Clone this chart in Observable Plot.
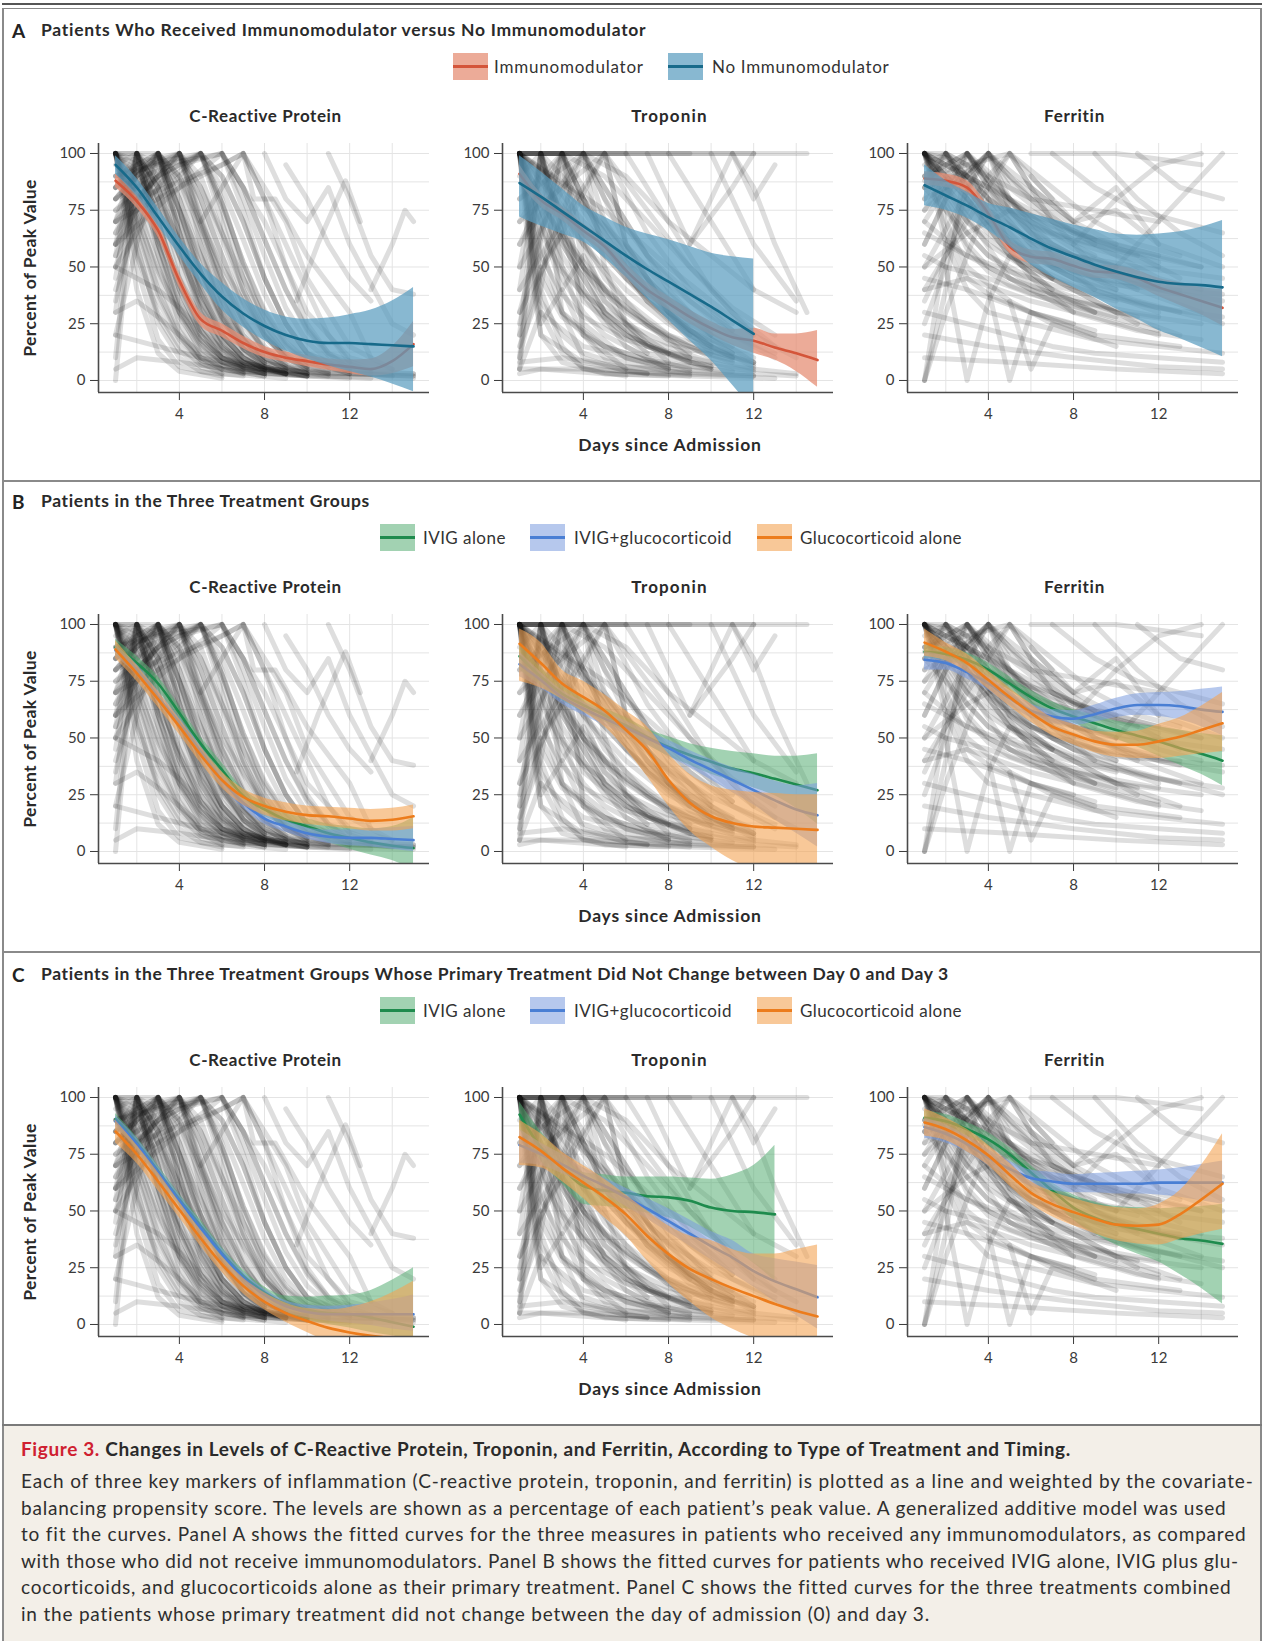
<!DOCTYPE html>
<html><head><meta charset="utf-8">
<script src="https://cdn.jsdelivr.net/npm/d3@7"></script>
<script src="https://cdn.jsdelivr.net/npm/@observablehq/plot@0.6"></script>
<style>
html,body{margin:0;padding:0;background:#fff;}
#root{position:relative;width:1264px;height:1641px;overflow:hidden;font-family:Lato,"Noto Sans",sans-serif;color:#222;}
#root svg{position:absolute;}
</style></head><body><div id="root"></div>
<script>
// ---------------- DATA ----------------
const panelTitles = ["C-Reactive Protein", "Troponin", "Ferritin"];
const sectionLetters = ["A", "B", "C"];
const sectionTitles = [
  "Patients Who Received Immunomodulator versus No Immunomodulator",
  "Patients in the Three Treatment Groups",
  "Patients in the Three Treatment Groups Whose Primary Treatment Did Not Change between Day 0 and Day 3"
];
const legendA = ["Immunomodulator", "No Immunomodulator"];
const legendBC = ["IVIG alone", "IVIG+glucocorticoid", "Glucocorticoid alone"];
const xTicks = [4, 8, 12];
const yTicks = [0, 25, 50, 75, 100];
const gridDays = [2, 4, 6, 8, 10, 12, 14];
const gridVals = [0, 12.5, 25, 37.5, 50, 62.5, 75, 87.5, 100];
const xLabel = "Days since Admission";
const yLabel = "Percent of Peak Value";

// fitted curves: [fit, lower, upper] for day 1, 2, 3, ...
const A_crp_imm = [[88,85,91],[79,76,82],[66,63,69],[44,41,47],[27,24,30],[22,19,25],[16.5,14,19.5],[12.5,10,15],[10,8,12.5],[8.5,6,11],[7,4.5,9.5],[6,3,9],[5,2,9.5],[8.5,3,15],[16,6,26]];
const A_crp_non = [[95,91,99],[85,81,89],[72,68,76],[59,55,63],[47,42.5,51.5],[37,31,43],[29.5,23.5,36],[24,17.5,31],[20,13,28],[17.5,9.5,27],[16.5,6.5,27.5],[16.5,4,29],[16,1.5,31],[15.5,-1.5,35],[15,-5,41]];
const A_trp_imm = [[91,87,95],[79.5,76.5,82.5],[73.5,70.5,76.5],[66,63,69],[59,56,62],[48.5,45.5,51.5],[40,37,43],[34,31,37],[28,25,31],[23,20,26],[19,15.5,22.5],[17.5,12,23],[14.5,9,20.5],[12,4,20.5],[9,-3,22]];
const A_trp_non = [[87,72,99],[81,68,92],[74.5,64.5,84.5],[68,61,77],[61.5,54,72],[55,45.5,67.5],[49,36,64.5],[43.5,26.5,62],[38,17.5,59],[32.5,8.8,56],[26.5,-2,54.5],[20.5,-13,53.5]];
const A_fer_imm = [[89,86,92],[88,85,91],[85,82,88],[73.5,70.5,76.5],[59,56,62],[54.5,51.5,57.5],[53.5,50.5,56.5],[50.5,47.5,53.5],[48,45,51],[47.5,44.5,50.5],[45,41.5,48.5],[41,37,45],[38,33,43],[35,29,41],[32,24,40]];
const A_fer_non = [[86,77,95],[81.5,75,88],[77,71.5,83],[72,66,78],[67.5,59,76],[62.5,51,73.5],[58,45.5,71],[54.5,41,68.5],[51,36.5,66.5],[48,31.5,64.5],[45.5,27,64],[43.5,22,64.5],[42.5,18.5,65.5],[42,14.5,67.5],[41,10.5,70.5]];

const B_crp_ivig = [[90,86.5,93.5],[83,80,86],[74,71,77],[61,58,64],[47.5,44.5,50.5],[36,33,39],[24.5,21.5,27.5],[18.5,15.5,21.5],[14,11,17],[11,7.5,14.5],[8,4,12],[6,1,11],[4,-1.5,10],[2.5,-4,11],[1.5,-8,15]];
const B_crp_both = [[88.5,86,91],[80,77.5,82.5],[68,65.5,70.5],[56.5,54,59],[44,41.5,46.5],[31.5,29,34],[21.5,19,24],[14.5,12,17],[11,8.5,13.5],[8,5.5,10.5],[6.5,3.5,9.5],[6,2.5,9.5],[6,2,10],[5.5,1,10.5],[5,0,11]];
const B_crp_gluc = [[89,85,93],[78.5,75,82],[67,63.5,70.5],[55,51.5,58.5],[42.5,39,46],[31.5,28,35],[24,20.5,27.5],[20,16,23.5],[17.5,13.5,21.5],[16,12,20],[15.5,11,19.5],[14.5,10,19],[13.5,9,18.5],[14,9,19],[15.5,10,20.5]];
const B_trp_ivig = [[86,80,92],[77,73,81],[69.5,66.5,73],[64.5,61.5,67.5],[60,57,63],[55.5,52.5,59],[50.5,47,54],[46,42,50.5],[42.5,38,47.5],[39.5,34,45.5],[36.5,31,44],[34.5,28,43],[32,24.5,42],[29.5,19,42],[27,12,43]];
const B_trp_both = [[82.5,77,88],[75.5,72,79],[68,65,71],[63,60,66],[58.5,55.5,61.5],[54.5,51.5,57.5],[50,47,53],[45.5,42,49],[40.5,37,44.5],[36,31.5,40.5],[31.5,26,37],[27,20.5,34],[22.5,14,31],[18.5,8,29],[16,2,30]];
const B_trp_gluc = [[91.5,75,98],[83,72,92],[74,67,80],[68,61.5,75],[62,55,69],[53.5,45,62],[44.5,33,55],[31.5,20,43],[21.5,9,34],[15.5,2,29],[12.5,-4,27],[11,-8,26],[10.5,-11,25.5],[10,-13,25],[9.5,-15,25]];
const B_fer_ivig = [[88,85,91],[87,84,90],[84.5,81.5,87.5],[80,77,83],[74,71,77],[68,65,71],[63,60,66],[59.5,56.5,62.5],[56.5,53,60],[53.5,49.5,57.5],[51,46,56],[48.5,42,55],[45.5,38,53.5],[43,34,52],[40,29,51]];
const B_fer_both = [[84.5,80,88],[83,80,86],[79,76,82],[74,71,77],[67.5,64.5,70.5],[62,59,65],[59.5,56.5,62.5],[58.5,55.5,62],[60.5,57,64.5],[63,59,67.5],[64.5,60,69.5],[64.5,59.5,70],[64,58,70.5],[62.5,55,71.5],[61.5,51,72.5]];
const B_fer_gluc = [[92,86,98],[88,84,92],[83,79,87],[75.5,71.5,79.5],[68,64,72],[61,57,65],[55,51,59],[51.5,47,56],[48.5,43.5,53],[47,41.5,52.5],[47,41,53],[48.5,41,56],[50.5,42,59],[53.5,43,64],[56.5,44,70]];

const C_crp_ivig = [[90.5,88,93],[80,77.5,82.5],[67.5,65,70],[55,52.5,57.5],[43.5,41,46],[31.5,29,34],[21.5,19,24],[14,11.5,16.5],[9,5.5,12.5],[6.5,2,12],[5,0,12.5],[4.5,-1.5,13],[3,-3.5,15],[1,-5,19.5],[-1,-7,25]];
const C_crp_both = [[89.5,87,92],[79.5,77,82],[67,64.5,69.5],[54.5,52,57],[42.5,40,45],[31,28.5,33.5],[20.5,18,23],[13,10.5,15.5],[8,5.5,10.5],[5.5,3,8.5],[4.5,1.5,8],[4.5,0.5,8.5],[4.5,-0.5,9.5],[4.5,-2,11],[4.5,-3,13]];
const C_crp_gluc = [[85,80,90],[75,71,79],[63,59,67],[50.5,47,54],[38,34.5,41.5],[26.5,23,30],[17,13.5,20.5],[10,6.5,14],[5,1,9.5],[1.5,-3.5,7],[-1.5,-8,6.5],[-3.5,-13,7.5],[-5,-18,10],[-6,-23,14],[-6.5,-28,19]];
const C_trp_ivig = [[92.5,86,98],[78,72,85],[69,62,75],[61,53,67],[59,52,66],[58,51,65],[56.5,49,65],[56,47,65],[54.5,43,64.5],[51.5,37.5,64],[50,33,66],[49.5,27,70],[48.5,19,79]];
const C_trp_both = [[79,71,86],[75,70,80],[70.5,66.5,75],[65.5,62,69],[61,57.5,64.5],[56,52,60],[51,46.5,55.5],[45.5,40.5,51],[40,34.5,46],[34.5,28.5,41],[29.5,22.5,37],[23.5,16.5,31],[19,10,29],[15.5,4,27.5],[12,-2,26]];
const C_trp_gluc = [[82.5,70,90],[76.5,69,84],[69,63,76],[62.5,55.5,70],[56,47,64],[48.5,39,57],[39,28,50],[31,18,43.5],[24.5,10,39],[20,3,37],[16,-2,33],[12.5,-6,31],[9,-9,31],[6,-12,33],[3.5,-15,35]];
const C_fer_ivig = [[91,88,94],[89.5,86.5,92.5],[86,83,89],[81.5,78.5,84.5],[75,72,78],[67,64,70],[59,55.5,62.5],[51.5,46,57],[47,40,54],[44,35,52],[42,31,51.5],[40,27.5,51],[38,22,51.5],[37,16,52],[35.5,9,53]];
const C_fer_both = [[87,82,91],[84,80,88],[79.5,76,83],[73.5,70,77],[68.5,65,72],[64.5,61,68],[63,59,67],[62,58,66],[62,58,66.5],[62,57.5,67],[62,57.5,67.5],[62.5,57,68],[62.5,56,69],[62.5,54.5,70.5],[62.5,53,72]];
const C_fer_gluc = [[89,83,95],[86,81,91],[81,76,86],[74.5,70,79],[66,61,71],[58,53,63],[53,47.5,58.5],[49.5,43.5,55.5],[46.5,40,53],[44,37,51.5],[43.5,35.5,51],[44,35,53],[48.5,37.5,59],[55,40,70],[62,42,84]];

// individual patient trajectories (day, value, day, value, ...)
const crpPatients = [
 [1,100,2,70,3,40,4,20,5,8,6,3],[1,100,2,80,3,55,4,30,5,15,6,8,7,4],[1,100,2,60,3,25,4,10,5,4,7,2],
 [1,100,2,85,3,65,4,45,5,28,6,15,7,8,8,4],[1,100,2,90,3,75,4,55,5,35,6,20,7,10,8,5,9,3],[1,100,2,50,3,18,4,6,6,2],
 [1,100,2,75,3,45,4,22,5,10,6,5,8,2],[1,100,2,95,3,70,4,40,5,20,6,10,7,6,9,3],[1,100,2,100,3,85,4,55,5,30,6,15,7,8,9,4],
 [1,100,2,65,3,35,4,18,5,9,7,4,10,2],[1,60,2,100,3,70,4,40,5,20,6,10,7,5],[1,30,2,100,3,80,4,50,5,25,6,12,7,6,8,3],
 [1,85,2,100,3,60,4,30,5,12,6,5],[1,10,2,100,3,90,4,65,5,40,6,20,7,10,8,5],[1,45,2,100,3,75,4,45,5,22,6,10,8,4],
 [1,0,2,100,3,55,4,25,5,10,7,3],[1,70,2,90,3,100,4,70,5,40,6,20,7,10,8,5],[1,50,2,80,3,100,4,80,5,50,6,28,7,14,8,7,9,3],
 [1,90,2,95,3,100,4,60,5,30,6,14,7,6],[1,20,2,60,3,100,4,85,5,60,6,35,7,18,8,8],[1,80,3,100,4,75,5,45,6,25,7,12,8,6,10,2],
 [1,60,2,80,3,90,4,100,5,70,6,40,7,20,8,10,9,5],[1,75,2,85,3,95,4,100,5,80,6,55,7,30,8,15,9,7,10,3],[1,40,2,70,3,85,4,100,5,60,6,30,7,14,8,6],
 [1,90,4,100,5,90,6,65,7,40,8,22,9,11,10,5],[1,70,2,80,3,90,4,95,5,100,6,70,7,40,8,20,9,10,10,5],[1,50,3,80,5,100,6,80,7,50,8,25,9,12,10,6],
 [1,85,5,100,6,90,7,70,8,45,9,25,10,12,12,4],[1,60,4,85,6,100,7,75,8,45,9,25,10,12,11,6],[1,70,5,90,7,100,8,80,9,50,10,25,11,12,12,5],
 [2,80,6,95,7,100,9,60,11,20,12,8],[5,70,7,100,8,85,9,70,10,45,12,15,14,5],[6,100,8,70,10,30,12,10,14,5],
 [7,100,7.5,80,8.5,80,10,55,12,30,13,10],[9,95,10,80,11,60,12,45,13,35],[9.5,35,10.5,60,11.8,88,12.5,70],
 [11,100,12,80,13,55,14,40,15,38],[13,40,14,60,14.6,75,15,70],[8,100,9,80,10,70,11,85,12,60,14,25,15,20],
 [1,20,3,15,5,10,8,5,12,3,15,2],[1,5,2,10,4,8,7,4,10,2,15,1],[3,100,4,90,5,70,6,50,7,35,8,20,9,10,10,5,12,3,15,2],
 [2,100,3,95,4,75,5,55,6,35,7,20,8,10,9,5,11,2],[4,100,5,85,6,65,7,45,8,28,9,15,10,8,12,4,14,2],[5,100,6,90,7,70,8,45,9,25,10,12,12,5,15,3],
 [1,100,2,88,3,60,4,35,5,18,6,10,8,5,11,3,15,3],[1,100,2,78,3,50,4,28,5,14,6,7,8,3,12,1],[2,100,3,70,4,42,5,22,6,11,7,6,9,3,13,1],
 [3,100,4,65,5,38,6,20,7,10,8,5,10,2],[4,100,5,72,6,45,7,26,8,13,9,6,11,3],
 [1,100,2,72,3,48,4,30,5,18,6,10,7,6,8,3],[1,100,2,82,3,62,4,42,5,25,6,13,7,7,9,3],[1,100,2,92,3,80,4,62,5,42,6,26,7,15,8,8,10,3],
 [1,100,2,55,3,30,4,15,5,7,7,3],[1,100,2,68,3,38,4,19,5,9,6,5,8,2],[1,100,2,97,3,88,4,70,5,48,6,30,7,18,8,10,9,5],
 [1,95,2,100,3,80,4,55,5,32,6,18,7,9,9,3],[1,70,2,100,3,85,4,58,5,33,6,17,7,8,9,3],[1,55,2,100,3,65,4,35,5,17,6,8,8,3],
 [1,100,2,100,3,100,4,80,5,55,6,32,7,18,8,9,10,3],[1,80,2,92,3,100,4,75,5,48,6,27,7,14,8,7],[1,65,2,85,3,100,4,65,5,35,6,17,7,8,9,3],
 [1,35,2,75,3,100,4,88,5,65,6,42,7,24,8,12,10,4],[1,85,2,95,3,100,4,90,5,68,6,45,7,26,8,14,9,7],[1,55,2,75,3,92,4,100,5,75,6,48,7,27,8,13,9,6],
 [1,80,2,90,3,98,4,100,5,85,6,62,7,38,8,20,9,10,11,3],[1,65,2,78,3,90,4,100,5,68,6,38,7,18,8,8],[1,85,2,92,3,96,4,98,5,100,6,78,7,52,8,30,9,16,10,8,12,3],
 [1,60,2,75,3,85,4,92,5,100,6,75,7,45,8,24,9,12,10,6],[1,75,3,88,5,100,6,85,7,62,8,38,9,20,10,10,12,4],[1,90,3,95,5,98,6,100,7,80,8,55,9,32,10,17,11,9,13,3],
 [1,80,4,95,6,100,7,85,8,62,9,40,10,22,11,11,13,4],[1,50,2,45,3,40,4,32,5,22,6,14,7,8,9,3],[1,30,2,35,3,28,4,20,5,12,7,5,10,2],
 [1,100,2,40,3,12,4,4,6,1],[1,100,2,58,3,28,4,13,5,6,6,3,9,1],[2,100,3,60,4,32,5,16,6,8,8,3],
 [2,100,3,85,4,60,5,38,6,22,7,12,8,6,10,2],[3,100,4,75,5,48,6,28,7,15,8,8,10,3],[4,100,5,80,6,55,7,34,8,19,9,10,11,4],
 [5,100,6,78,7,52,8,31,9,17,10,9,12,3],[6,100,7,85,8,62,9,40,10,23,11,12,13,5]
];
const trpPatients = [
 [1,100,14.5,100],[1,100,12,100],[1,100,9,100],[1,100,6,100],[1,100,5,100,6,60,8,30,10,15],
 [1,100,2,40,3,15,4,5,6,2],[1,100,2,70,3,45,4,30,5,20,7,10,9,5],[1,100,3,60,5,30,7,15,9,8,12,4],
 [1,100,2,85,4,60,6,40,8,25,10,15,12,8],[1,100,2,20,3,8,5,3,8,2],[1,100,4,80,6,55,8,35,10,20],
 [1,100,2,60,3,30,5,10,8,4,12,2],[1,100,5,75,8,50,10,35,12,20],[1,100,2,100,3,90,5,65,7,40,9,20,11,10],
 [1,100,2,90,3,75,4,60,6,35,8,20,10,10,12,5],[1,100,1.5,50,2,20,4,8,7,3],[1,100,2,50,3,65,4,35,6,20,9,8],
 [1,100,3,40,4,55,6,25,8,12],[1,5,2,100,3,50,4,25,6,10,8,5],[1,10,2,100,3,80,5,45,7,25,9,10],
 [1,50,2,100,4,40,6,15,8,5],[1,90,2,100,3,65,5,40,7,25,9,12],[1,30,3,100,4,60,5,35,7,15,10,5],
 [1,80,3,100,5,70,7,45,9,25,11,12],[1,15,2,40,3,100,4,20,6,5],[1,60,4,100,5,50,6,25,8,8],
 [1,20,4,100,6,70,8,40,10,20,12,8],[1,40,5,100,6,60,8,30,10,12],[1,70,5,100,7,75,9,50,11,30,13,15],
 [2,100,3,30,4,10,6,4,9,2],[2,100,4,100,6,90,8,70,10,55,12,40],[3,100,4,80,6,50,8,30,10,15,12,6],
 [4,100,5,85,7,55,9,35,11,20,13,10],[6,100,8,70,10,40,12,20,14,10],[7,100,9,60,11,85,12,100],
 [8,100,10,70,12,40,14,30],[9,60,11,100,12,80,13,95],[10,100,12,60,14,35],[11,100,12,85,13,60,14.5,30],
 [1,5,4,5,8,3,12,2],[1,8,3,10,6,6,10,4,14,2],[1,3,2,5,5,3,9,2,13,1],
 [1,100,2,75,3,55,4,40,5,28,6,20,8,12,11,6,14,3],[1,100,2,35,3,20,4,12,6,6,9,3],[1,100,3,75,5,55,7,35,9,22,12,10],
 [1,100,2,80,3,62,4,48,5,38,7,24,9,15,12,8],[1,100,2,65,3,48,4,38,6,25,8,16,11,9],[1,100,2,55,3,38,4,28,6,18,9,10],
 [1,100,2,92,3,82,4,70,6,52,8,36,10,24,13,12],[1,100,3,85,5,68,7,50,9,35,11,22],[1,100,2,45,3,28,5,15,7,9,10,5],
 [1,100,2,30,3,12,4,6,7,3],[1,100,2,78,4,50,6,32,8,20,11,10],[1,100,3,50,5,25,7,12,10,6],
 [1,100,4,65,6,45,8,30,11,15],[1,20,2,100,3,70,4,50,6,30,8,18,11,8],[1,40,2,100,3,60,5,30,7,15,10,6],
 [1,60,3,100,4,75,6,45,8,28,10,16],[1,70,2,85,3,100,4,50,5,30,7,12],[1,25,3,100,5,60,7,35,9,20],
 [1,50,4,100,5,70,7,40,9,22,11,12],[1,80,4,100,6,60,8,38,10,22],[1,30,5,100,7,65,9,40,11,22],
 [1,100,2,100,4,100,5,80,7,55,9,38,11,25],[1,100,3,100,5,90,7,70,9,50,11,32,13,20],[2,100,3,65,5,35,7,18,10,8],
 [3,100,5,60,7,35,9,18,12,7],[1,10,2,50,3,30,5,15,8,6],[1,5,2,30,4,15,7,8,11,4],[1,100,2,25,3,40,4,20,6,10,9,4]
];
const ferPatients = [
 [1,100,3,90,5,75,7,60,9,50,12,40,15,35],[1,100,2,85,4,65,6,50,8,40,10,30,13,20],[1,100,2,70,3,50,5,35,7,25,10,15],
 [1,100,3,80,5,55,7,40,9,30],[1,100,2,95,4,85,6,75,8,65,10,60,12,55,14,50],[1,100,2,90,3,80,5,60,8,45,11,35,15,25],
 [1,100,2,100,3,95,4,80,6,60,8,55,10,50],[1,100,5,45,8,30,11,22,14,18],[1,100,2,80,3,65,4,55,6,42,9,30,12,22],
 [1,100,2,92,3,85,4,72,5,62,7,50,10,42,15,38],[2,100,3,85,5,60,7,45,9,35,11,25],[1,80,2,100,4,75,6,55,8,45,10,40],
 [1,90,2,100,3,80,4,70,6,55,9,45,13,40],[1,60,3,100,5,80,7,60,9,50,11,42,13,38],[1,90,3,100,4,85,6,65,8,50,10,40],
 [1,70,2,85,3,100,5,70,7,50,9,40,12,30],[1,50,4,100,6,80,8,65,10,55,12,45,14,40],[1,75,4,100,5,80,7,55,9,40],
 [1,85,3,92,4,100,5,85,7,70,10,58,14,50],[1,40,5,100,7,85,9,70,11,60,13,55],[2,100,4,90,6,80,9,75,12,70],
 [5,100,7,70,9,50,11,40,14,30],[6,100,10,100,14,95],[7,100,9,85,11,75,13,70,15,65],[8,60,10,80,12,95,14,100],
 [9,100,11,80,13,65,15,55],[10,50,12,70,14,90,15,100],[6,90,8,70,10,85,12,60],[11,100,13,85,15,80],
 [1,0,2,40,3,100,4,70,6,45,8,30],[1,0,2,60,3,80,5,55,7,40],[2,50,3,0,4,35,5,55,7,45],[4,40,5,0,6,30,8,25],
 [5,35,6,5,7,25,9,20],[1,30,3,25,5,20,7,15,9,12,12,10,15,8],[1,20,4,15,8,10,12,6,15,5],[1,10,5,8,10,5,15,3],
 [1,45,3,40,6,30,9,20,13,15],[1,85,2,75,4,55,7,40,10,30,14,25],[1,65,3,55,5,45,8,35,12,28],
 [1,100,2,60,3,40,4,30,6,25,9,18,15,12],[3,100,5,75,7,65,9,60,11,55,13,45],[4,100,6,85,8,70,10,75,12,60,15,50],
 [1,100,2,95,3,88,4,78,5,68,7,55,9,48,12,42],[1,100,2,88,3,78,4,68,6,55,8,48,11,40],[1,100,2,82,3,70,4,60,6,48,9,38,13,30],
 [1,100,2,75,3,60,4,50,6,40,8,35,11,28],[1,100,2,98,3,90,4,85,5,78,7,68,9,62,12,55],[1,95,2,100,3,90,4,80,6,65,8,55,11,48],
 [1,85,2,100,3,85,4,72,6,58,8,50],[1,75,2,90,3,100,4,88,6,70,8,58,10,50],[1,88,2,95,3,100,4,92,5,80,7,65,9,55],
 [1,60,2,80,4,100,5,88,7,72,9,60],[1,80,3,90,4,100,5,90,7,75,9,62,12,52],[1,90,3,95,5,100,6,85,8,70,10,60],
 [1,100,2,78,3,58,4,48,5,42,7,35,10,28],[1,100,2,65,3,45,4,38,6,30,9,22],[1,70,2,62,3,55,5,48,7,42,10,35],
 [1,55,2,50,4,45,6,38,9,30],[1,35,2,55,3,75,4,90,5,100,7,80],[1,25,2,50,3,85,4,100,5,75,7,55],
 [1,0,2,30,3,55,4,80,5,60,7,45],[1,100,2,90,4,75,6,62,8,55,11,50,15,45],[2,100,3,90,4,80,6,68,9,58,12,50],
 [3,100,4,88,6,72,8,62,11,55],[1,50,3,65,5,75,7,70,9,62],[1,40,3,45,6,35,9,28,12,20],[1,100,3,70,5,55,8,42,12,32,15,28]
];

const captionTitleRed = "Figure 3.";
const captionTitle = "Changes in Levels of C-Reactive Protein, Troponin, and Ferritin, According to Type of Treatment and Timing.";
const captionLines = [
 "Each of three key markers of inflammation (C-reactive protein, troponin, and ferritin) is plotted as a line and weighted by the covariate-",
 "balancing propensity score. The levels are shown as a percentage of each patient\u2019s peak value. A generalized additive model was used",
 "to fit the curves. Panel A shows the fitted curves for the three measures in patients who received any immunomodulators, as compared",
 "with those who did not receive immunomodulators. Panel B shows the fitted curves for patients who received IVIG alone, IVIG plus glu-",
 "cocorticoids, and glucocorticoids alone as their primary treatment. Panel C shows the fitted curves for the three treatments combined",
 "in the patients whose primary treatment did not change between the day of admission (0) and day 3."
];

// ---------------- STYLE / LAYOUT ----------------
const STYLE = {
  imm:  {line: "#d4553a", fill: "#e58f75", op: 0.75},
  non:  {line: "#176a8a", fill: "#5a9dbf", op: 0.72},
  ivig: {line: "#1e8b4d", fill: "#55ad72", op: 0.55},
  both: {line: "#4a7fd4", fill: "#7a9ade", op: 0.55},
  gluc: {line: "#ec7c1c", fill: "#f4a454", op: 0.6}
};
const X_DOMAIN = [0.2, 15.75], Y_DOMAIN = [-5.3, 104.4];
const sectionTop = [0, 471, 944];
const panelLeft = [98, 502, 907];
const PW = 331, PH = 249, ML = 52, MR = 6, MT = 6, MB = 40;
const FONT = "Lato, 'Noto Sans', sans-serif";
const root = document.getElementById("root");

function box(css) {
  const d = document.createElement("div");
  Object.assign(d.style, {position: "absolute"}, css);
  root.appendChild(d);
  return d;
}
function text(str, x, y, o = {}) {
  const d = document.createElement("div");
  d.textContent = str;
  Object.assign(d.style, {position: "absolute", whiteSpace: "nowrap", fontFamily: FONT,
    fontSize: (o.size || 17) + "px", fontWeight: o.weight || 400, color: o.color || "#222",
    lineHeight: "1", left: x + "px", top: y + "px"});
  root.appendChild(d);
  if (o.width) {
    const w = d.offsetWidth;
    d.style.letterSpacing = ((o.width - w) / Math.max(1, str.length - 1)) + "px";
  }
  const tx = o.anchor === "middle" ? "-50%" : "0";
  d.style.transform = `translate(${tx},-50%)` + (o.rotate ? " rotate(-90deg)" : "");
  return d;
}

function panel(patients, series, x0, y0) {
  const rows = [];
  patients.forEach((p, i) => { for (let k = 0; k < p.length; k += 2) rows.push({id: i, day: p[k], v: p[k + 1]}); });
  const marks = [
    Plot.ruleX(gridDays, {stroke: "#e4e4e4", strokeWidth: 1}),
    Plot.ruleY(gridVals, {stroke: "#e4e4e4", strokeWidth: 1}),
    Plot.line(rows, {x: "day", y: "v", z: "id", stroke: "#161616", strokeOpacity: 0.14, strokeWidth: 5, clip: true})
  ];
  for (const [key, data] of series) {
    const s = STYLE[key];
    const r = data.map((t, i) => ({day: i + 1, fit: t[0], lo: t[1], hi: t[2]}));
    marks.push(Plot.areaY(r, {x: "day", y1: "lo", y2: "hi", fill: s.fill, fillOpacity: s.op, curve: "monotone-x", clip: true}));
    marks.push(Plot.line(r, {x: "day", y: "fit", stroke: s.line, strokeWidth: 2.6, curve: "monotone-x", clip: true}));
  }
  marks.push(Plot.ruleX([X_DOMAIN[0]], {stroke: "#4a4a4a", strokeWidth: 1.6}));
  marks.push(Plot.ruleY([Y_DOMAIN[0]], {stroke: "#4a4a4a", strokeWidth: 1.6}));
  const svg = Plot.plot({
    width: ML + PW + MR, height: MT + PH + MB,
    marginLeft: ML, marginRight: MR, marginTop: MT, marginBottom: MB,
    style: {fontFamily: FONT, fontSize: "15px", color: "#3a3a3a", background: "transparent", overflow: "visible"},
    x: {domain: X_DOMAIN, ticks: xTicks, tickSize: 8, tickPadding: 8, label: null},
    y: {domain: Y_DOMAIN, ticks: yTicks, tickSize: 8, tickPadding: 5, label: null},
    marks
  });
  svg.style.position = "absolute";
  svg.style.left = (x0 - ML) + "px";
  svg.style.top = (y0 - MT) + "px";
  root.appendChild(svg);
}

const sections = [
  {keys: ["imm", "non"], labels: legendA, swX: [453, 668], txX: [494, 712], txW: [149, 177],
   panels: [[crpPatients, [A_crp_imm, A_crp_non]], [trpPatients, [A_trp_imm, A_trp_non]], [ferPatients, [A_fer_imm, A_fer_non]]]},
  {keys: ["ivig", "both", "gluc"], labels: legendBC, swX: [380, 530, 757], txX: [423, 574, 800], txW: [82, 158, 162],
   panels: [[crpPatients, [B_crp_ivig, B_crp_both, B_crp_gluc]], [trpPatients, [B_trp_ivig, B_trp_both, B_trp_gluc]], [ferPatients, [B_fer_ivig, B_fer_both, B_fer_gluc]]]},
  {keys: ["ivig", "both", "gluc"], labels: legendBC, swX: [380, 530, 757], txX: [423, 574, 800], txW: [82, 158, 162],
   panels: [[crpPatients, [C_crp_ivig, C_crp_both, C_crp_gluc]], [trpPatients, [C_trp_ivig, C_trp_both, C_trp_gluc]], [ferPatients, [C_fer_ivig, C_fer_both, C_fer_gluc]]]}
];
const sectionTitleW = [605, 329, 908];
const panelTitleW = [152, 75, 60];

// frame
box({left: "2px", top: "3px", width: "1260px", height: "2px", background: "#555"});
box({left: "2px", top: "8px", width: "1260px", height: "1px", background: "#888"});
box({left: "2px", top: "8px", width: "2px", height: "1633px", background: "#8a8a8a"});
box({left: "1260px", top: "8px", width: "2px", height: "1633px", background: "#8a8a8a"});
box({left: "2px", top: "480px", width: "1260px", height: "2px", background: "#8a8a8a"});
box({left: "2px", top: "951px", width: "1260px", height: "2px", background: "#8a8a8a"});
box({left: "4px", top: "1426px", width: "1256px", height: "215px", background: "#f3efe8"});
box({left: "2px", top: "1424px", width: "1260px", height: "2px", background: "#7a7a7a"});

sections.forEach((sec, si) => {
  const o = sectionTop[si];
  text(sectionLetters[si], 12, 30 + o, {size: 19, weight: 700, color: "#222"});
  text(sectionTitles[si], 41, 30 + o, {size: 17.5, weight: 700, color: "#2a2a2a", width: sectionTitleW[si]});
  sec.keys.forEach((k, i) => {
    const s = STYLE[k];
    const sw = box({left: sec.swX[i] + "px", top: (66 + o - 13.5) + "px", width: "35px", height: "27px", background: "#fff"});
    const f = document.createElement("div");
    Object.assign(f.style, {position: "absolute", left: 0, top: 0, width: "35px", height: "27px", background: s.fill, opacity: s.op});
    sw.appendChild(f);
    const ln = document.createElement("div");
    Object.assign(ln.style, {position: "absolute", left: 0, top: "12px", width: "35px", height: "3px", background: s.line});
    sw.appendChild(ln);
    text(sec.labels[i], sec.txX[i], 66 + o, {size: 17, color: "#333", width: sec.txW[i]});
  });
  sec.panels.forEach(([pat, ser], pi) => {
    text(panelTitles[pi], panelLeft[pi] + PW / 2 + 2, 115 + o, {size: 17, weight: 700, color: "#2a2a2a", anchor: "middle", width: panelTitleW[pi]});
    panel(pat, ser.map((d, j) => [sec.keys[j], d]), panelLeft[pi], 143 + o);
  });
  text(yLabel, 30, 267.5 + o, {size: 17.5, weight: 700, color: "#2a2a2a", anchor: "middle", rotate: true, width: 177});
  text(xLabel, 670, 445 + o, {size: 17.5, weight: 700, color: "#2a2a2a", anchor: "middle", width: 183});
});

// caption
const cap = document.createElement("div");
Object.assign(cap.style, {position: "absolute", left: "21px", top: "1448px", whiteSpace: "nowrap", fontFamily: FONT,
  fontSize: "19px", fontWeight: 700, color: "#2a2a2a", lineHeight: "1", transform: "translateY(-50%)"});
const red = document.createElement("span"); red.textContent = captionTitleRed; red.style.color = "#cf2030";
cap.appendChild(red); cap.appendChild(document.createTextNode(" " + captionTitle));
root.appendChild(cap);
{ const w = cap.offsetWidth; const n = captionTitleRed.length + captionTitle.length; cap.style.letterSpacing = ((1050 - w) / n) + "px"; }
const capW = [1232, 1205, 1224, 1216, 1209, 908];
captionLines.forEach((l, i) => text(l, 21, 1480 + i * 26.5, {size: 19, color: "#2e2e2e", width: capW[i]}));
</script></body></html>
